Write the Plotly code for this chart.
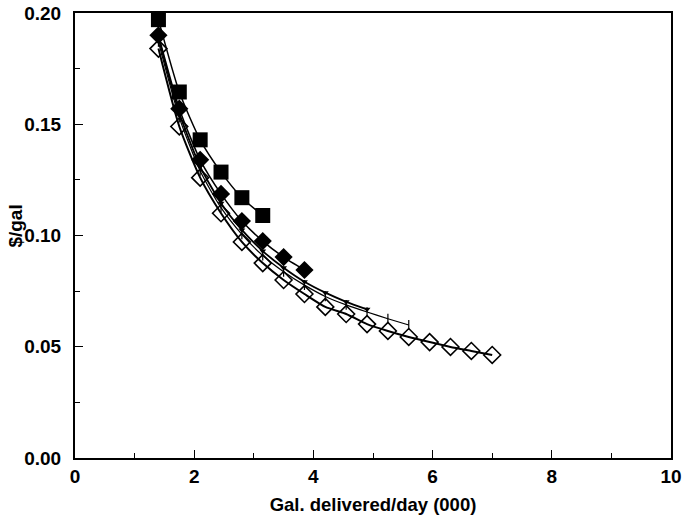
import plotly.graph_objects as go

# Delivery volume (thousand gallons/day) and unit cost ($/gal) for each route configuration
x_sq = [1.40, 1.75, 2.10, 2.45, 2.80, 3.15]
y_sq = [0.197, 0.1645, 0.143, 0.1285, 0.117, 0.109]

x_fd = [1.40, 1.75, 2.10, 2.45, 2.80, 3.15, 3.50, 3.85]
y_fd = [0.190, 0.157, 0.134, 0.1187, 0.1065, 0.0975, 0.0903, 0.0845]

x_tri = [1.40, 1.75, 2.10, 2.45, 2.80, 3.15, 3.50, 3.85, 4.20, 4.55, 4.90]
y_tri = [0.189, 0.155, 0.131, 0.1145, 0.1025, 0.093, 0.0855, 0.0792, 0.0743, 0.0702, 0.0668]

x_tk = [1.40, 1.75, 2.10, 2.45, 2.80, 3.15, 3.50, 3.85, 4.20, 4.55, 4.90, 5.25, 5.60]
y_tk = [0.187, 0.153, 0.129, 0.1125, 0.1005, 0.091, 0.0837, 0.0777, 0.0726, 0.0688, 0.0656, 0.0626, 0.0598]

x_od = [1.40, 1.75, 2.10, 2.45, 2.80, 3.15, 3.50, 3.85, 4.20, 4.55, 4.90,
        5.25, 5.60, 5.95, 6.30, 6.65, 7.00]
y_od = [0.184, 0.149, 0.126, 0.110, 0.0971, 0.0876, 0.080, 0.0737, 0.0679, 0.0647,
        0.0602, 0.0571, 0.0544, 0.0521, 0.0499, 0.0481, 0.0463]

x_ticks = [0, 2, 4, 6, 8, 10]
y_ticks = [0.00, 0.05, 0.10, 0.15, 0.20]

FONT = "Liberation Sans, Arial, sans-serif"

fig = go.Figure()

fig.add_trace(go.Scatter(
    x=x_od, y=y_od, mode="lines+markers",
    line=dict(color="black", width=2, shape="spline", smoothing=0.6),
    marker=dict(symbol="diamond-open", size=13, color="black", line=dict(width=1.6)),
))
fig.add_trace(go.Scatter(
    x=x_tk, y=y_tk, mode="lines+markers",
    line=dict(color="black", width=1.2, shape="spline", smoothing=0.6),
    marker=dict(symbol="line-ns-open", size=7, color="black", line=dict(width=1.2)),
))
fig.add_trace(go.Scatter(
    x=x_tri, y=y_tri, mode="lines+markers",
    line=dict(color="black", width=1.8, shape="spline", smoothing=0.6),
    marker=dict(symbol="triangle-down", size=6, color="black"),
))
fig.add_trace(go.Scatter(
    x=x_fd, y=y_fd, mode="lines+markers",
    line=dict(color="black", width=1.5, shape="spline", smoothing=0.6),
    marker=dict(symbol="diamond", size=14, color="black"),
))
fig.add_trace(go.Scatter(
    x=x_sq, y=y_sq, mode="lines+markers",
    line=dict(color="black", width=1.5, shape="spline", smoothing=0.6),
    marker=dict(symbol="square", size=15, color="black"),
))

axis_common = dict(
    showgrid=False, zeroline=False, automargin=False,
    showline=True, linecolor="black", linewidth=2, mirror=True,
    ticks="inside", tickcolor="black", tickwidth=1.2, ticklen=8,
    ticklabeloverflow="allow",
    tickfont=dict(family=FONT, size=19, color="black", weight="bold"),
)

fig.update_xaxes(
    range=[0, 10], tickvals=x_ticks, ticktext=[str(v) for v in x_ticks],
    minor=dict(ticks="inside", dtick=1, ticklen=5, tickcolor="black", tickwidth=1),
    title=dict(text="Gal. delivered/day (000)", standoff=12,
               font=dict(family=FONT, size=18.5, color="black", weight="bold")),
    **axis_common,
)
fig.update_yaxes(
    range=[0, 0.2], tickvals=y_ticks, ticktext=[f"{v:.2f}" for v in y_ticks],
    minor=dict(ticks="inside", dtick=0.025, ticklen=5, tickcolor="black", tickwidth=1),
    ticklabelstandoff=8,
    **axis_common,
)

# y-axis title sits close to the tick labels, so place it as a rotated annotation
fig.add_annotation(
    text="$/gal", textangle=-90, showarrow=False,
    xref="paper", yref="paper", x=0, y=0.52, xanchor="center", yanchor="middle",
    xshift=-59, font=dict(family=FONT, size=19, color="black", weight="bold"),
)

fig.update_layout(
    width=682, height=521,
    margin=dict(l=75, r=11, t=13, b=63),
    paper_bgcolor="white", plot_bgcolor="white",
    showlegend=False,
)

fig.write_html("out.html")
